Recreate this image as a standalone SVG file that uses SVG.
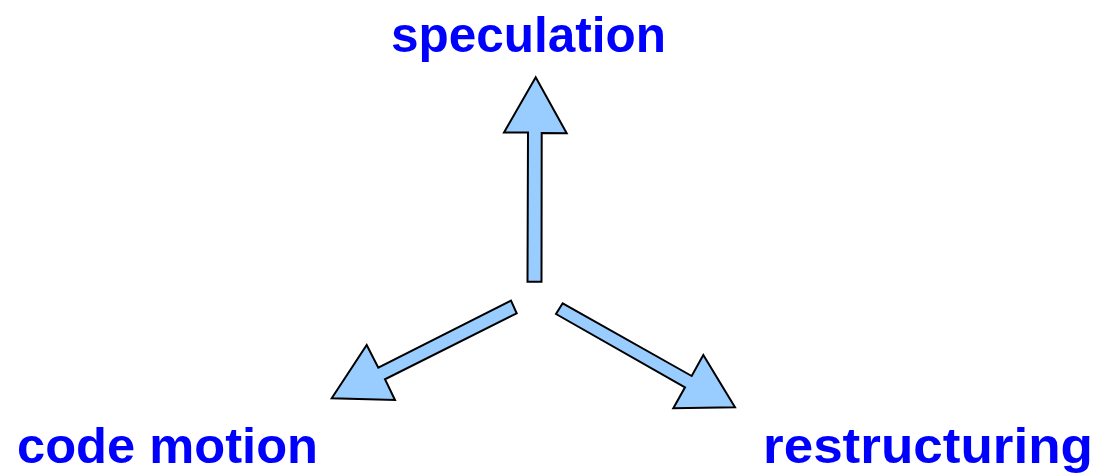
<svg xmlns="http://www.w3.org/2000/svg" width="1101" height="476" viewBox="0 0 1101 476">
<style>
.lbl{font-family:"Liberation Sans",Arial,sans-serif;font-weight:bold;font-size:50px;fill:#0000ff}
.arr{fill:#99ccff;stroke:#000;stroke-width:2;stroke-linejoin:miter}
</style>
<rect width="1101" height="476" fill="#fff"/>
<g id="connectors">
<polygon class="arr" points="527.5,281.7 541.5,281.7 541.7,133 566.7,133.3 535.7,77.3 504,132.5 528,132.5"/>
<polygon class="arr" points="511,300.7 516.7,313.3 385,379.3 395,400 331.7,398.3 366.7,345 378.3,367.7"/>
<polygon class="arr" points="562.7,303.3 556,314 685,387.3 673.3,408.3 735,407.3 703.3,355 691.7,376"/>
</g>
<g id="speculation"><text class="lbl" x="391" y="52" textLength="275" lengthAdjust="spacingAndGlyphs">speculation</text></g>
<g id="code-motion"><text class="lbl" x="17" y="463" textLength="301" lengthAdjust="spacingAndGlyphs">code motion</text></g>
<g id="restructuring"><text class="lbl" x="763" y="463" textLength="330" lengthAdjust="spacingAndGlyphs">restructuring</text></g>
</svg>
